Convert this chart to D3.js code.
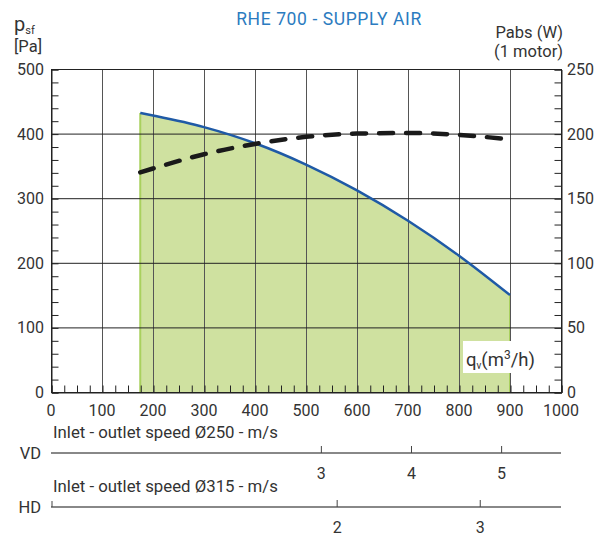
<!DOCTYPE html>
<html>
<head>
<meta charset="utf-8">
<script src="https://cdn.jsdelivr.net/npm/d3@7"></script>
<style>
  html, body { margin: 0; padding: 0; background: #fff; }
  svg { display: block; font-family: "Roboto", "DejaVu Sans", sans-serif; }
</style>
</head>
<body>
<svg id="chart" width="607" height="540"></svg>
<script>
// Fan curve RHE 700, supply air
const title = "RHE 700 - SUPPLY AIR";
const flowTicks = [0, 100, 200, 300, 400, 500, 600, 700, 800, 900, 1000];
const pressureTicks = [0, 100, 200, 300, 400, 500];
const powerTicks = [0, 50, 100, 150, 200, 250];

// Static pressure p_sf [Pa] against airflow q_v [m3/h]
const flow = [175, 200, 300, 400, 500, 600, 700, 800, 900];
const pressure = [432, 428, 410, 385, 352, 312, 265, 211, 150];
// Absorbed power Pabs [W] (1 motor)
const power = [170, 173, 184, 192, 197.5, 200, 200.5, 199, 195.5];

// Duct speed scales
const vdDiameter = 250;      // mm
const vdSpeeds = [3, 4, 5];  // m/s
const hdDiameter = 315;      // mm
const hdSpeeds = [2, 3];     // m/s

const svg = d3.select("#chart");
const plotLeft = 51, plotRight = 561, plotTop = 69, plotBottom = 392;
const textColor = "#333";

const x = d3.scaleLinear().domain([0, 1000]).range([plotLeft, plotRight]);
const yP = d3.scaleLinear().domain([0, 500]).range([plotBottom, plotTop]);
const yW = d3.scaleLinear().domain([0, 250]).range([plotBottom, plotTop]);

// operating area under the pressure curve
const pts = flow.map((q, i) => ({ q, p: pressure[i], w: power[i] }));
const curve = d3.curveMonotoneX;
svg.append("path")
  .datum(pts)
  .attr("fill", "#cfe1a0")
  .attr("d", d3.area().x(d => x(d.q)).y0(yP(0)).y1(d => yP(d.p)).curve(curve));
[0, flow.length - 1].forEach(i => {
  svg.append("line")
    .attr("x1", x(flow[i])).attr("x2", x(flow[i]))
    .attr("y1", yP(0)).attr("y2", yP(pressure[i]))
    .attr("stroke", "#a9d05e").attr("stroke-width", 2);
});

// grid
const grid = svg.append("g").attr("stroke", "#555").attr("stroke-width", 1);
flowTicks.slice(1, -1).forEach(q => {
  grid.append("line").attr("x1", x(q) + 0.5).attr("x2", x(q) + 0.5)
    .attr("y1", plotTop).attr("y2", plotBottom);
});
pressureTicks.slice(1, -1).forEach(p => {
  grid.append("line").attr("x1", plotLeft).attr("x2", plotRight)
    .attr("y1", yP(p) + 0.5).attr("y2", yP(p) + 0.5).attr("stroke", "#222");
});

// frame
svg.append("rect")
  .attr("x", plotLeft + 0.5).attr("y", plotTop + 0.5)
  .attr("width", plotRight - plotLeft).attr("height", plotBottom - plotTop)
  .attr("fill", "none").attr("stroke", "#222").attr("stroke-width", 1);

// axes with inward minor ticks
const fmt = d3.format("d");
const axisBottom = svg.append("g")
  .attr("transform", `translate(0.5,${plotBottom + 0.5})`)
  .call(d3.axisBottom(x).tickValues(d3.range(0, 1001, 25)).tickSize(-7).tickFormat(""));
const axisLeft = svg.append("g")
  .attr("transform", `translate(${plotLeft + 0.5},0.5)`)
  .call(d3.axisLeft(yP).tickValues(d3.range(0, 501, 20)).tickSize(-7).tickFormat(""));
const axisRight = svg.append("g")
  .attr("transform", `translate(${plotRight + 0.5},0.5)`)
  .call(d3.axisRight(yW).tickValues(d3.range(0, 251, 10)).tickSize(-7).tickFormat(""));
[axisBottom, axisLeft, axisRight].forEach(g => {
  g.select(".domain").attr("stroke", "#222");
  g.selectAll(".tick line").attr("stroke", "#222");
});

// tick labels
svg.append("g").selectAll("text").data(flowTicks).join("text")
  .attr("x", d => x(d)).attr("y", 416)
  .attr("text-anchor", "middle").attr("font-size", 16).attr("fill", textColor)
  .text(fmt);
svg.append("g").selectAll("text").data(pressureTicks).join("text")
  .attr("x", 44).attr("y", d => yP(d) + 6)
  .attr("text-anchor", "end").attr("font-size", 16).attr("fill", textColor)
  .text(fmt);
svg.append("g").selectAll("text").data(powerTicks).join("text")
  .attr("x", 567).attr("y", d => yW(d) + 6)
  .attr("text-anchor", "start").attr("font-size", 16).attr("fill", textColor)
  .text(fmt);

// curves
svg.append("path")
  .datum(pts)
  .attr("fill", "none").attr("stroke", "#1f5aa6").attr("stroke-width", 2.5)
  .attr("d", d3.line().x(d => x(d.q)).y(d => yP(d.p)).curve(curve));
svg.append("path")
  .datum(pts)
  .attr("fill", "none").attr("stroke", "#1a1a1a").attr("stroke-width", 4.5)
  .attr("stroke-dasharray", "14,13").attr("stroke-linecap", "round")
  .attr("d", d3.line().x(d => x(d.q)).y(d => yW(d.w)).curve(curve));

// axis titles
svg.append("text").attr("x", 329).attr("y", 25)
  .attr("text-anchor", "middle").attr("font-size", 17.5).attr("letter-spacing", 0.6)
  .attr("fill", "#2b7bc0")
  .text(title);
const pt = svg.append("text").attr("x", 14).attr("y", 31).attr("font-size", 20).attr("fill", textColor);
pt.append("tspan").text("p");
pt.append("tspan").attr("font-size", 11).attr("dy", 3).text("sf");
svg.append("text").attr("x", 14).attr("y", 52).attr("font-size", 16.5).attr("fill", textColor).text("[Pa]");
svg.append("text").attr("x", 563).attr("y", 38).attr("text-anchor", "end")
  .attr("font-size", 16.5).attr("fill", textColor).text("Pabs (W)");
svg.append("text").attr("x", 563).attr("y", 57).attr("text-anchor", "end")
  .attr("font-size", 16.5).attr("fill", textColor).text("(1 motor)");

// flow label box
svg.append("rect").attr("x", 463).attr("y", 341).attr("width", 78).attr("height", 32).attr("fill", "#fff");
const ql = svg.append("text").attr("x", 466).attr("y", 366).attr("font-size", 18.5).attr("fill", textColor);
ql.append("tspan").text("q");
ql.append("tspan").attr("font-size", 10).attr("dy", 3).text("v");
ql.append("tspan").attr("dy", -3).text("(m");
ql.append("tspan").attr("font-size", 12).attr("dy", -7).text("3");
ql.append("tspan").attr("dy", 7).text("/h)");

// duct speed scales: q = v * area * 3600
function speedScale(yLine, diameter, speeds, tag, showStart) {
  const area = Math.PI * Math.pow(diameter / 2000, 2);
  const g = svg.append("g");
  g.append("text").attr("x", 53).attr("y", yLine - 15)
    .attr("font-size", 16.8).attr("fill", textColor)
    .text(`Inlet - outlet speed Ø${diameter} - m/s`);
  g.append("text").attr("x", 41).attr("y", yLine + 6).attr("text-anchor", "end")
    .attr("font-size", 16.5).attr("fill", textColor).text(tag);
  g.append("line").attr("x1", plotLeft).attr("x2", plotRight)
    .attr("y1", yLine).attr("y2", yLine)
    .attr("stroke", "#888").attr("stroke-width", 2);
  if (showStart) {
    g.append("line").attr("x1", plotLeft + 1).attr("x2", plotLeft + 1)
      .attr("y1", yLine - 6).attr("y2", yLine).attr("stroke", "#444").attr("stroke-width", 1);
  }
  speeds.forEach(v => {
    const px = x(v * area * 3600);
    g.append("line").attr("x1", px).attr("x2", px)
      .attr("y1", yLine - 7).attr("y2", yLine).attr("stroke", "#444").attr("stroke-width", 1);
    g.append("text").attr("x", px).attr("y", yLine + 26).attr("text-anchor", "middle")
      .attr("font-size", 16).attr("fill", textColor).text(v);
  });
}
speedScale(453, vdDiameter, vdSpeeds, "VD", false);
speedScale(507, hdDiameter, hdSpeeds, "HD", true);
</script>
</body>
</html>
